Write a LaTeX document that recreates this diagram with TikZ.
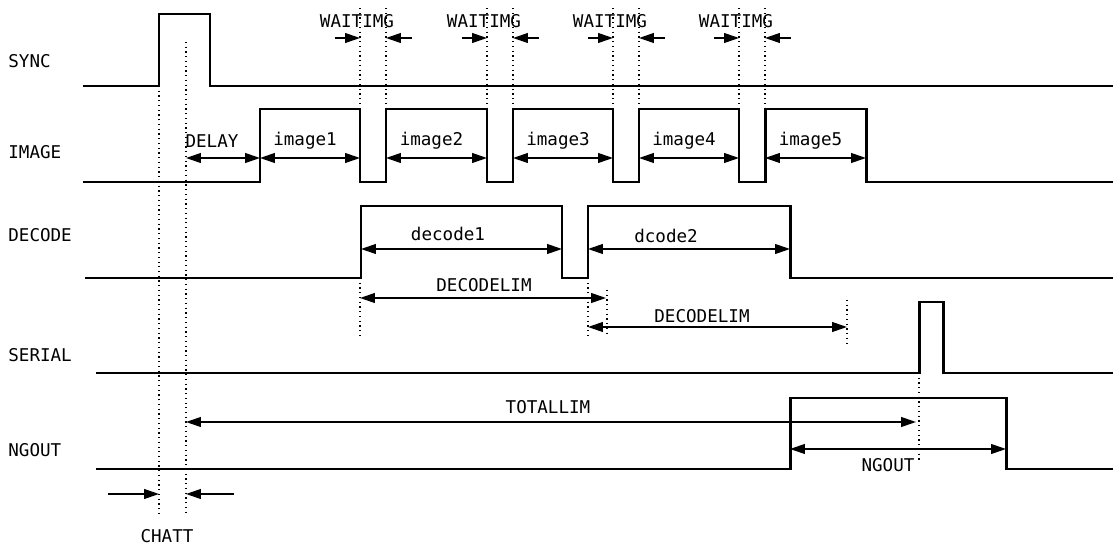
\documentclass[tikz,border=0pt]{standalone}
\usepackage{fontspec}
\setmainfont{DejaVu Sans Mono}
\usetikzlibrary{arrows.meta}

\begin{document}
\begin{tikzpicture}[x=0.02cm, y=-0.02cm,
  sig/.style={line width=1.7pt, line join=miter},
  dim/.style={line width=0.85pt, {Triangle[length=8.5pt,width=5.6pt]}-{Triangle[length=8.5pt,width=5.6pt]}},
  onearr/.style={line width=0.85pt, -{Triangle[length=8.5pt,width=5.6pt]}},
  guide/.style={dotted, line width=0.7pt},
  lbl/.style={font=\fontsize{10}{12}\selectfont, inner sep=0pt}]
  \useasboundingbox (0,0) rectangle (1113,550);

  % signal names
  \node[lbl, anchor=west] (sync)   at (8,61)  {SYNC};
  \node[lbl, anchor=west] (image)  at (8,152) {IMAGE};
  \node[lbl, anchor=west] (decode) at (8,235) {DECODE};
  \node[lbl, anchor=west] (serial) at (8,355) {SERIAL};
  \node[lbl, anchor=west] (ngout)  at (8,450) {NGOUT};

  % waveforms
  \draw[sig] (83,86) -- (159,86) -- (159,14) -- (210,14) -- (210,86) -- (1113,86);
  \draw[sig] (83,182) -- (260,182) -- (260,109) -- (360,109) -- (360,182) -- (386,182)
    -- (386,109) -- (487,109) -- (487,182) -- (513,182) -- (513,109) -- (613,109)
    -- (613,182) -- (639,182) -- (639,109) -- (739,109) -- (739,182) -- (765,182)
    -- (765,109) -- (866,109) -- (866,182) -- (1113,182);
  \draw[sig] (85,278) -- (361,278) -- (361,206) -- (562,206) -- (562,278) -- (588,278)
    -- (588,206) -- (790,206) -- (790,278) -- (1113,278);
  \draw[sig] (96,373) -- (919,373) -- (919,302) -- (943,302) -- (943,373) -- (1113,373);
  \draw[sig] (96,469) -- (790,469) -- (790,398) -- (1006,398) -- (1006,469) -- (1113,469);

  % WAITIMG
  \foreach \g [count=\i] in {360,487,613,739}{
    \draw[guide] (\g,8) -- (\g,109);
    \draw[guide] (\g+26,8) -- (\g+26,109);
    \coordinate (w\i a) at (\g,38);    \coordinate (w\i b) at (\g+26,38);
    \coordinate (w\i l) at (\g-25,38); \coordinate (w\i r) at (\g+52,38);
    \draw[onearr] (w\i l) -- (w\i a);
    \draw[onearr] (w\i r) -- (w\i b);
    \node[lbl] (wait\i) at (\g-3,21) {WAITIMG};
  }

  % image periods
  \coordinate (dl a) at (186,158); \coordinate (dl b) at (260,158);
  \draw[dim] (dl a) -- (dl b);
  \node[lbl] (delay) at (212,141) {DELAY};
  \foreach \a/\b [count=\i] in {260/360,386/487,513/613,639/739,765/866}{
    \coordinate (im\i a) at (\a,158); \coordinate (im\i b) at (\b,158);
    \draw[dim] (im\i a) -- (im\i b);
    \node[lbl] (img\i) at ({(\a+\b)/2-5},141) {image\i};
  }

  % decode
  \coordinate (dc1a) at (361,249); \coordinate (dc1b) at (562,249);
  \coordinate (dc2a) at (588,249); \coordinate (dc2b) at (790,249);
  \draw[dim] (dc1a) -- (dc1b);
  \draw[dim] (dc2a) -- (dc2b);
  \node[lbl] (dec1) at (448,234) {decode1};
  \node[lbl] (dec2) at (666,236) {dcode2};

  \draw[guide] (360,278) -- (360,338);
  \draw[guide] (588,278) -- (588,338);
  \draw[guide] (607,290) -- (607,335);
  \draw[guide] (847,300) -- (847,345);
  \coordinate (lim1a) at (360,298); \coordinate (lim1b) at (606,298);
  \coordinate (lim2a) at (588,327); \coordinate (lim2b) at (847,327);
  \draw[dim] (lim1a) -- (lim1b);
  \draw[dim] (lim2a) -- (lim2b);
  \node[lbl] (declim1) at (484,285) {DECODELIM};
  \node[lbl] (declim2) at (702,316) {DECODELIM};

  % total / ngout
  \draw[guide] (159,86) -- (159,515);
  \draw[guide] (186,42) -- (186,515);
  \draw[guide] (919,373) -- (919,460);
  \coordinate (tot a) at (186,422); \coordinate (tot b) at (916,422);
  \draw[dim] (tot a) -- (tot b);
  \node[lbl] (total) at (548,407) {TOTALLIM};
  \coordinate (ng a) at (790,449); \coordinate (ng b) at (1006,449);
  \draw[dim] (ng a) -- (ng b);
  \node[lbl] (ngtxt) at (888,465) {NGOUT};

  % chattering
  \coordinate (ch l) at (108,494); \coordinate (ch a) at (159,494);
  \coordinate (ch r) at (234,494); \coordinate (ch b) at (186,494);
  \draw[onearr] (ch l) -- (ch a);
  \draw[onearr] (ch r) -- (ch b);
  \node[lbl] (chatt) at (167,536) {CHATT};
\end{tikzpicture}
\end{document}
